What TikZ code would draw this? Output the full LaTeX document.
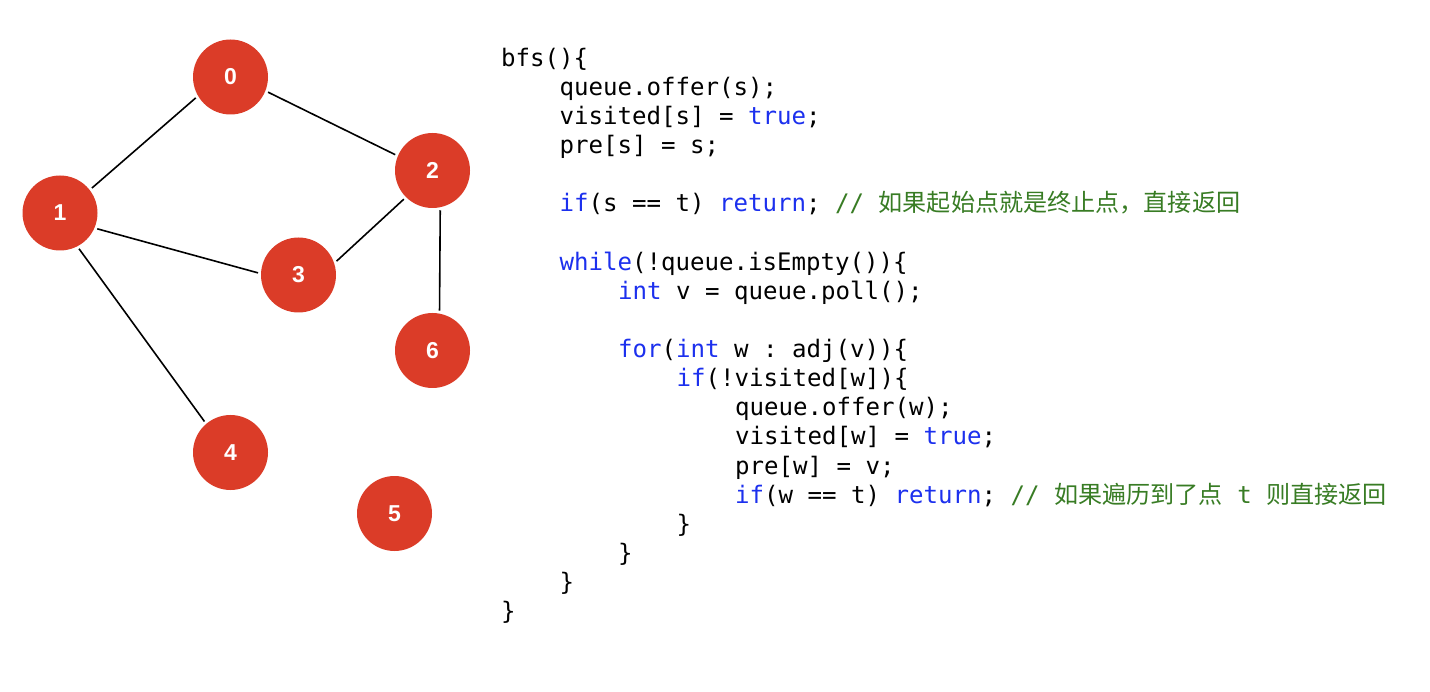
\documentclass[tikz,border=0pt]{standalone}
\usepackage{fontspec}
\setmainfont{Liberation Sans}
\setmonofont{DejaVu Sans Mono}
\newfontfamily\cjk{Noto Sans CJK SC}
\definecolor{nodered}{RGB}{219,60,40}
\definecolor{kwblue}{RGB}{28,48,238}
\definecolor{cmgreen}{RGB}{56,124,36}
\newcommand{\kw}[1]{\textcolor{kwblue}{#1}}
\newcommand{\cm}[1]{\textcolor{cmgreen}{#1}}
\tikzset{
  vtx/.style={circle, fill=nodered, minimum size=75pt, inner sep=0pt, outer sep=3pt,
    text=white, font=\fontsize{23}{23}\selectfont\bfseries},
  edge/.style={draw=black, line width=1.6pt},
  codeline/.style={anchor=base west, inner sep=0pt, outer sep=0pt,
    font=\ttfamily\fontsize{24.1}{29}\selectfont}
}
\begin{document}
\begin{tikzpicture}[x=1pt,y=-1pt]
\useasboundingbox[fill=white] (0,0) rectangle (1430,692);
% graph
\node[vtx] (n0) at (230.5,77) {0};
\node[vtx] (n1) at (60,213) {1};
\node[vtx] (n2) at (432.5,170.5) {2};
\node[vtx] (n3) at (298.5,275) {3};
\node[vtx] (n6) at (432.5,350.5) {6};
\node[vtx] (n4) at (230.5,452.5) {4};
\node[vtx] (n5) at (394.5,513.5) {5};
\draw[edge] (n0.211) -- (n1.38);
\draw[edge] (n0.-22) -- (n2.157);
\draw[edge] (n1.-23) -- (n3.177);
\draw[edge] (n2.225) -- (n3.20);
\draw[edge] (n2.-79) -- (n6.80);
\draw[edge] (n1.-62) -- (n4.130);
% code
\node[codeline] (c0)  at (501,67)  {bfs()\{};
\node[codeline] (c1)  at (559.5,96)  {queue.offer(s);};
\node[codeline] (c2)  at (559.5,125) {visited[s] = \kw{true};};
\node[codeline] (c3)  at (559.5,154) {pre[s] = s;};
\node[codeline] (c5)  at (559.5,212) {\kw{if}(s == t) \kw{return}; \cm{// {\cjk 如果起始点就是终止点，直接返回}}};
\node[codeline] (c7)  at (559.5,271) {\kw{while}(!queue.isEmpty())\{};
\node[codeline] (c8)  at (618,300)   {\kw{int} v = queue.poll();};
\node[codeline] (c10) at (618,358)   {\kw{for}(\kw{int} w : adj(v))\{};
\node[codeline] (c11) at (676.5,387) {\kw{if}(!visited[w])\{};
\node[codeline] (c12) at (735,416)   {queue.offer(w);};
\node[codeline] (c13) at (735,445)   {visited[w] = \kw{true};};
\node[codeline] (c14) at (735,474)   {pre[w] = v;};
\node[codeline] (c15) at (735,503)   {\kw{if}(w == t) \kw{return}; \cm{// {\cjk 如果遍历到了点} t {\cjk 则直接返回}}};
\node[codeline] (c16) at (676.5,532) {\}};
\node[codeline] (c17) at (618,561)   {\}};
\node[codeline] (c18) at (559.5,590) {\}};
\node[codeline] (c19) at (501,619)   {\}};
\end{tikzpicture}
\end{document}
